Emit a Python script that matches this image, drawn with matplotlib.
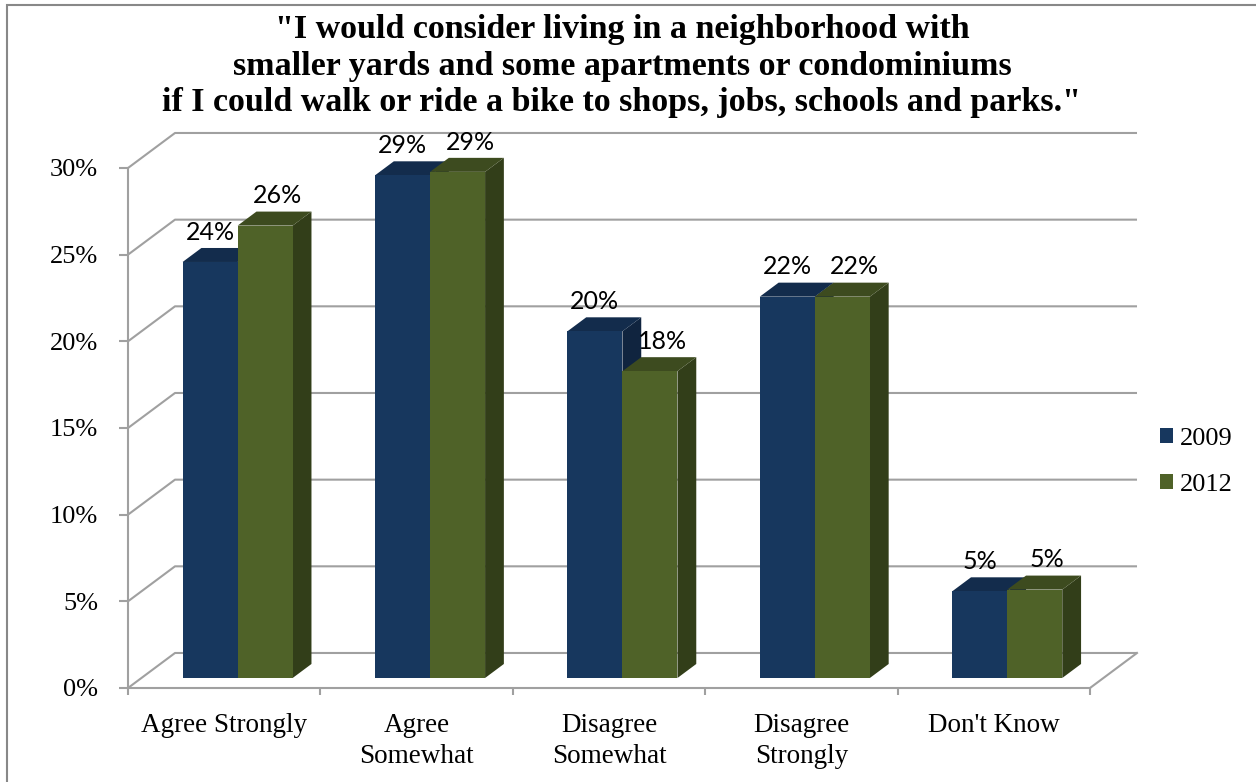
import numpy as np
import matplotlib.pyplot as plt
from matplotlib.patches import Polygon, Rectangle, Patch

categories = ['Agree Strongly', 'Agree\nSomewhat', 'Disagree\nSomewhat',
              'Disagree\nStrongly', "Don't Know"]
y2009 = [24.0, 29.0, 20.0, 22.0, 5.0]
y2012 = [26.1, 29.2, 17.7, 22.0, 5.1]
series = ['2009', '2012']
yticks = [0, 5, 10, 15, 20, 25, 30]

title = ('"I would consider living in a neighborhood with\n'
         'smaller yards and some apartments or condominiums\n'
         'if I could walk or ride a bike to shops, jobs, schools and parks."')

# colours: front, top, side
blue = ['#17375E', '#132C4C', '#10243F']
green = ['#4F6228', '#3D4B1F', '#323E19']
grid_c = '#A0A0A0'

W, H = 1256, 782
fig = plt.figure(figsize=(W / 100, H / 100), dpi=100)
ax = fig.add_axes([128 / W, 94 / H, 962 / W, 520 / H])
ax.set_xlim(-0.5, 4.5)
ax.set_ylim(0, 30)

# 3d depth of the walls, in data units
dx, dy = 0.2443, 2.02
f0 = 0.286          # where the bars sit in depth
fd = 0.40           # bar depth
ox, oy = f0 * dx, f0 * dy
bdx, bdy = fd * dx, fd * dy
bw = 0.286

x0, x1 = -0.5, 4.5
lw = 1.5
for v in yticks:
    ax.plot([x0, x0 + dx, x1 + dx], [v, v + dy, v + dy], color=grid_c,
            lw=lw, clip_on=False, zorder=1, solid_capstyle='butt')
# floor right edge
ax.plot([x1, x1 + dx], [0, dy], color=grid_c, lw=lw, clip_on=False, zorder=1)


def bar3d(xl, xr, v, cols):
    xl, xr = xl + ox, xr + ox
    front = Rectangle((xl, oy), xr - xl, v, facecolor=cols[0], edgecolor='none')
    top = Polygon([(xl, v + oy), (xr, v + oy), (xr + bdx, v + oy + bdy),
                   (xl + bdx, v + oy + bdy)], facecolor=cols[1], edgecolor='none')
    side = Polygon([(xr, oy), (xr + bdx, oy + bdy), (xr + bdx, v + oy + bdy),
                    (xr, v + oy)], facecolor=cols[2], edgecolor='none')
    for p in (side, top, front):
        p.set_zorder(3)
        p.set_clip_on(False)
        ax.add_patch(p)


for i in range(len(categories)):
    bar3d(i - bw, i, y2009[i], blue)
    bar3d(i, i + bw, y2012[i], green)

lab_font = dict(family=['Lato', 'DejaVu Sans'], fontsize=18, color='black')
for i in range(len(categories)):
    ax.text(i - bw / 2 + ox, y2009[i] + oy + bdy + 0.25, f'{round(y2009[i])}%',
            ha='center', va='bottom', zorder=5, **lab_font)
    ax.text(i + bw / 2 + ox + 0.065, y2012[i] + oy + bdy + 0.25,
            f'{round(y2012[i])}%', ha='center', va='bottom', zorder=5, **lab_font)

serif = ['Liberation Serif', 'DejaVu Serif']
for s in ['top', 'right']:
    ax.spines[s].set_visible(False)
for s in ['left', 'bottom']:
    ax.spines[s].set_color(grid_c)
    ax.spines[s].set_linewidth(lw)
    ax.spines[s].set_zorder(2)

ax.set_yticks(yticks)
ax.set_yticklabels([f'{v}%' for v in yticks], family=serif, fontsize=19)
ax.tick_params(axis='y', length=6.5, width=lw, color=grid_c, pad=15)

ax.set_xticks(np.arange(-0.5, 5.0, 1.0))
ax.set_xticklabels([])
ax.set_xticks(np.arange(5), minor=True)
ax.set_xticklabels(categories, minor=True, family=serif, fontsize=19.5,
                   linespacing=1.3)
ax.tick_params(axis='x', which='major', length=5, width=lw, color=grid_c)
ax.tick_params(axis='x', which='minor', length=0, pad=18)

fig.text(622 / W, 1 - 66 / H, title, ha='center', va='center',
         family=serif, fontsize=24.5, fontweight='bold', linespacing=1.22)

handles = [Patch(facecolor=blue[0]), Patch(facecolor=green[0])]
leg = fig.legend(handles, series, loc='center left',
                 bbox_to_anchor=(1136 / W, 1 - 462 / H), frameon=False,
                 prop=dict(family=serif, size=19), handlelength=0.5,
                 handleheight=0.5, handletextpad=0.25, labelspacing=0.9)

fig.add_artist(Rectangle((7 / W, -0.1), 1.2, 1.1 - 5.5 / H,
                         transform=fig.transFigure, fill=False,
                         edgecolor='#888888', lw=1.5))

fig.savefig('out.png', dpi=100)
